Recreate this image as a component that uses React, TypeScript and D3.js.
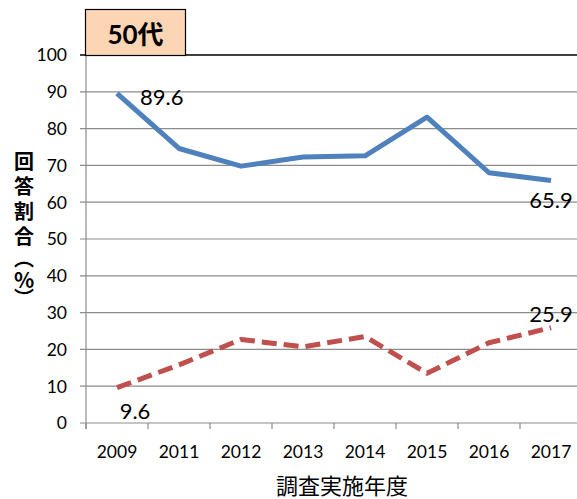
import React from "react";
import * as d3 from "d3";

const years = ["2009", "2011", "2012", "2013", "2014", "2015", "2016", "2017"];
const blueValues = [89.6, 74.6, 69.8, 72.3, 72.6, 83.1, 68.0, 65.9];
const redValues = [9.6, 15.8, 22.7, 20.7, 23.5, 13.5, 21.8, 25.9];
const yTicks = [0, 10, 20, 30, 40, 50, 60, 70, 80, 90, 100];
const yTitleChars = ["回", "答", "割", "合", "︵", "%", "︶"];

const W = 577;
const H = 499;
const font = "Lato, 'Noto Sans CJK JP', sans-serif";
const cjk = "'Noto Sans CJK JP', sans-serif";

const App = () => {
  const x = d3.scaleBand().domain(years).range([86, 582]).padding(0);
  const y = d3.scaleLinear().domain([0, 100]).range([423, 55]);
  const cx = (d: string) => (x(d) as number) + x.bandwidth() / 2;

  const line = d3
    .line<number>()
    .x((_, i) => cx(years[i]))
    .y(d => y(d));

  const last = years.length - 1;
  // vertical y title: char centres
  const titleY = [162, 187, 212, 237, 259, 281, 299];

  return (
    <svg width={W} height={H} style={{ position: "absolute", left: 0, top: 0, background: "#fff" }}>
      {/* grid */}
      {yTicks.map(t => (
        <line
          key={t}
          x1={80}
          x2={W}
          y1={y(t)}
          y2={y(t)}
          stroke={t === 100 ? "#000" : "#8c8c8c"}
          strokeWidth={t === 100 ? 1.5 : 1.2}
        />
      ))}
      {/* y axis */}
      <line x1={86} x2={86} y1={55} y2={429} stroke="#8c8c8c" strokeWidth={1.2} />
      {/* x ticks */}
      {years.map(d => (
        <line key={d} x1={x(d) as number} x2={x(d) as number} y1={423} y2={429} stroke="#8c8c8c" strokeWidth={1.2} />
      ))}
      {yTicks.map(t => (
        <text key={t} x={67} y={y(t)} dy="0.36em" textAnchor="end" fontFamily={font} fontSize={17.5} fill="#000">
          {t}
        </text>
      ))}
      {years.map(d => (
        <text key={d} x={cx(d)} y={458} textAnchor="middle" fontFamily={font} fontSize={17.5} fill="#000">
          {d}
        </text>
      ))}
      {/* series */}
      <path d={line(blueValues) as string} fill="none" stroke="#4F81BD" strokeWidth={5} strokeLinejoin="round" />
      <path
        d={line(redValues) as string}
        fill="none"
        stroke="#C0504D"
        strokeWidth={5}
        strokeDasharray="15 7"
        strokeLinejoin="round"
      />
      {/* data labels */}
      <text x={cx(years[0]) + 23} y={y(blueValues[0]) + 12} fontFamily={font} fontSize={22} fill="#000">
        {blueValues[0].toFixed(1)}
      </text>
      <text x={cx(years[last])} y={y(blueValues[last]) + 28} textAnchor="middle" fontFamily={font} fontSize={22} fill="#000">
        {blueValues[last].toFixed(1)}
      </text>
      <text x={cx(years[0]) + 18} y={y(redValues[0]) + 31} textAnchor="middle" fontFamily={font} fontSize={22} fill="#000">
        {redValues[0].toFixed(1)}
      </text>
      <text x={cx(years[last])} y={y(redValues[last]) - 6} textAnchor="middle" fontFamily={font} fontSize={22} fill="#000">
        {redValues[last].toFixed(1)}
      </text>
      {/* title box */}
      <rect x={85.5} y={9.5} width={100} height={46} fill="#FCD5B4" stroke="#000" strokeWidth={1.2} />
      <text x={135.5} y={44} textAnchor="middle" fontFamily={font} fontWeight="bold" fontSize={26} fill="#000">
        50代
      </text>
      {/* axis titles */}
      {yTitleChars.map((c, i) => (
        <text
          key={i}
          x={24}
          y={titleY[i]}
          dy="0.35em"
          textAnchor="middle"
          fontFamily={cjk}
          fontWeight="bold"
          fontSize={c === "%" ? 21 : 20}
          fill="#000"
        >
          {c}
        </text>
      ))}
      <text x={342} y={494} textAnchor="middle" fontFamily={cjk} fontSize={22} fill="#000">
        調査実施年度
      </text>
    </svg>
  );
};

export default App;
